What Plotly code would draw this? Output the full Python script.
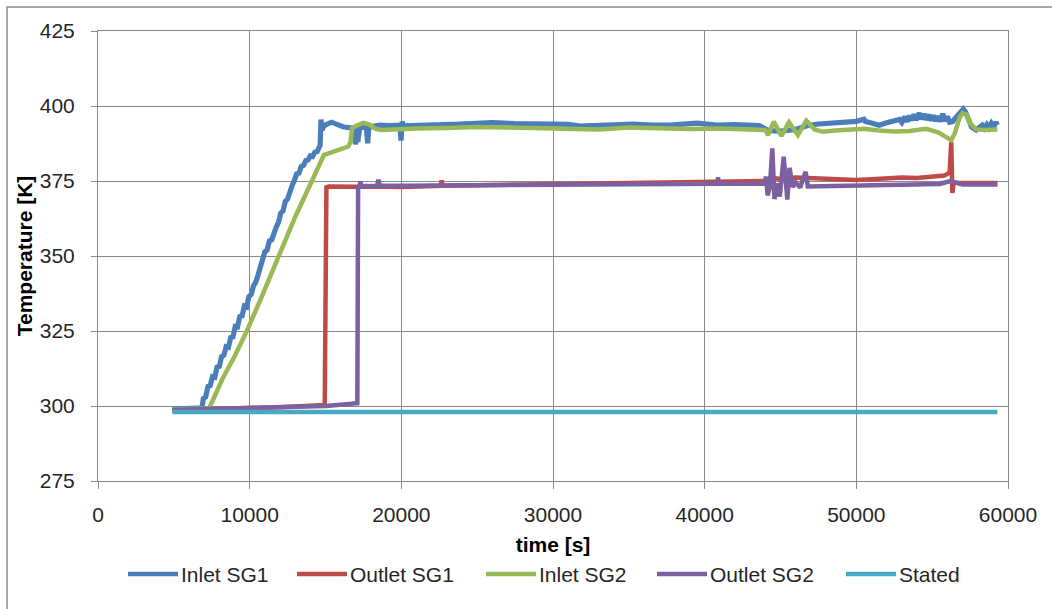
import plotly.graph_objects as go

# ---- measured temperatures: (time [s], temperature [K]) ----
inlet_sg1 = [
    (4900, 299.0), (6000, 299.2), (6850, 299.4), (6950, 302.5), (7100, 303.0),
    (7250, 306.5), (7400, 306.8), (7550, 309.8), (7700, 309.6), (7850, 313.0),
    (8000, 313.2), (8150, 316.5), (8300, 317.0), (8450, 319.8), (8600, 319.6),
    (8750, 322.8), (8900, 323.0), (9050, 326.5), (9200, 326.4), (9350, 329.8),
    (9500, 330.0), (9650, 333.3), (9800, 333.0), (9950, 336.5), (10100, 337.2),
    (10250, 340.0), (10400, 341.3), (10550, 343.6), (10700, 346.5), (10850, 349.0),
    (11000, 351.4), (11150, 352.0), (11300, 355.0), (11450, 355.4), (11600, 358.0),
    (11750, 359.6), (11900, 361.2), (12050, 364.3), (12200, 365.0), (12350, 368.2),
    (12500, 369.0), (12650, 371.6), (12800, 373.5), (12950, 375.2), (13100, 377.4),
    (13250, 377.6), (13400, 379.8), (13550, 380.2), (13700, 381.8), (13850, 382.0),
    (14000, 383.4), (14150, 383.2), (14300, 384.6), (14450, 384.8), (14600, 386.0),
    (14650, 387.0), (14700, 395.5), (14780, 392.0), (14900, 393.5), (15400, 394.6),
    (15800, 393.8), (16200, 393.0), (16600, 392.8), (16900, 392.5), (16980, 387.2),
    (17060, 391.5), (17130, 388.0), (17250, 392.6), (17500, 393.0), (17700, 392.6),
    (17780, 387.6), (17860, 392.8), (18200, 393.3), (18600, 393.6), (19200, 393.5),
    (19900, 393.6), (19980, 388.5), (20050, 394.8), (20150, 393.4), (21000, 393.6),
    (22000, 393.8), (22600, 393.8), (22660, 392.2), (22720, 393.8), (23500, 393.9),
    (25000, 394.2), (26000, 394.5), (27500, 394.1), (29000, 394.0), (30000, 394.3),
    (31000, 393.9), (31800, 393.3), (33000, 393.5), (34500, 393.8), (35300, 394.0),
    (36500, 393.6), (37900, 393.7), (39500, 394.3), (40800, 393.6), (42000, 393.8),
    (43600, 393.5), (44200, 391.8), (45000, 391.6), (46000, 392.2), (46800, 393.5),
    (47500, 394.0), (48500, 394.3), (49500, 394.6), (50000, 394.9), (50500, 395.6),
    (50600, 394.8), (51000, 394.3), (51500, 393.6), (52000, 394.4), (52500, 395.0),
    (52850, 395.5), (53000, 394.5), (53200, 396.4), (53350, 394.8), (53500, 396.8),
    (53650, 395.2), (53800, 397.2), (53950, 395.4), (54150, 397.6), (54300, 395.6),
    (54450, 397.3), (54600, 395.5), (54800, 397.0), (54950, 395.2), (55100, 396.8),
    (55250, 395.0), (55400, 396.6), (55550, 394.8), (55700, 397.4), (55850, 395.0),
    (56000, 396.5), (56150, 394.6), (56350, 394.8), (56500, 395.8), (56700, 397.0),
    (56900, 398.6), (57050, 399.0), (57200, 398.0), (57400, 395.5), (57600, 393.0),
    (57900, 392.0), (58100, 392.8), (58300, 393.6), (58450, 392.6), (58600, 393.8),
    (58750, 392.8), (58900, 394.2), (59050, 393.0), (59200, 394.6), (59300, 393.6),
]

outlet_sg1 = [
    (4900, 298.6), (8000, 299.0), (12000, 299.6), (14950, 300.3), (15060, 372.9),
    (15200, 373.2), (16000, 373.0), (17000, 373.1), (18000, 373.2), (19000, 373.2),
    (20000, 373.0), (22600, 373.4), (22660, 375.2), (22720, 373.4), (25000, 373.6),
    (30000, 373.9), (35000, 374.3), (39000, 374.7), (40500, 374.8), (42000, 374.9),
    (44000, 375.0), (44500, 376.0), (45000, 375.7), (46000, 376.2), (47000, 375.9),
    (48000, 375.6), (49000, 375.4), (50000, 375.3), (51000, 375.6), (52000, 375.9),
    (53000, 376.2), (54000, 376.0), (55000, 376.4), (55800, 376.8), (56150, 377.8),
    (56260, 388.0), (56330, 371.0), (56420, 374.5), (56700, 374.4), (57500, 374.3),
    (59300, 374.3),
]

inlet_sg2 = [
    (4900, 298.8), (6500, 298.9), (7300, 299.2), (7400, 300.0), (8200, 309.0),
    (9000, 316.5), (9815, 325.0), (10800, 336.5), (11900, 350.0), (13000, 363.0),
    (14100, 375.0), (14600, 380.5), (14900, 383.7), (15200, 384.2), (15600, 384.8),
    (16100, 385.8), (16500, 386.5), (16650, 388.0), (16750, 392.6), (17100, 393.6),
    (17500, 394.4), (17900, 393.8), (18300, 392.4), (18700, 392.0), (19500, 392.3),
    (21000, 392.5), (23000, 392.7), (25000, 393.0), (27000, 392.8), (29000, 392.6),
    (30000, 392.7), (31500, 392.3), (33000, 392.2), (35000, 392.8), (37000, 392.4),
    (39000, 392.3), (41000, 392.5), (43000, 392.2), (44000, 392.0), (44180, 390.3),
    (44560, 394.8), (45060, 390.0), (45560, 394.6), (46150, 390.3), (46700, 395.1),
    (47250, 392.2), (47800, 391.4), (48600, 391.8), (49500, 392.0), (50500, 392.4),
    (51500, 391.8), (52500, 391.5), (53500, 391.7), (54600, 392.4), (55400, 391.2),
    (56000, 389.6), (56260, 388.6), (56500, 391.0), (56800, 396.0), (57000, 397.6),
    (57250, 397.2), (57500, 394.2), (57900, 392.2), (58500, 392.0), (59300, 392.2),
]

outlet_sg2 = [
    (4900, 298.7), (9000, 299.2), (13000, 299.8), (15050, 300.0), (17100, 300.9),
    (17150, 373.0), (17250, 373.3), (17300, 374.9), (17360, 373.3), (18400, 373.4),
    (18490, 375.4), (18580, 373.4), (20000, 373.4), (25000, 373.6), (30000, 373.8),
    (35000, 374.0), (40000, 374.2), (40850, 374.1), (40880, 376.3), (40920, 374.1),
    (43900, 374.1), (44050, 376.4), (44150, 370.2), (44300, 373.0), (44460, 385.9),
    (44600, 369.0), (44800, 374.2), (44950, 369.8), (45210, 383.1), (45450, 368.8),
    (45600, 379.4), (45800, 373.0), (46000, 374.5), (46300, 372.8), (46500, 376.0),
    (46660, 378.1), (46800, 373.2), (48000, 373.3), (50000, 373.5), (52000, 373.8),
    (54000, 373.8), (55500, 374.0), (56200, 375.0), (56500, 374.6), (57000, 373.8),
    (59300, 373.8),
]

stated = [(4900, 298.0), (59300, 298.0)]

series_names = ["Inlet SG1", "Outlet SG1", "Inlet SG2", "Outlet SG2", "Stated"]
series_data = [inlet_sg1, outlet_sg1, inlet_sg2, outlet_sg2, stated]
series_colors = ["#4A7EBB", "#BE4B48", "#98B954", "#7D60A0", "#46AAC5"]
series_widths = [5.2, 4.5, 4.5, 4.5, 4.5]

x_ticks = [0, 10000, 20000, 30000, 40000, 50000, 60000]
y_ticks = [275, 300, 325, 350, 375, 400, 425]

# ---- page geometry (pixels) ----
W, H = 1052, 609
M_L, M_R, M_T, M_B = 98, 44, 31, 128
PW, PH = W - M_L - M_R, H - M_T - M_B


def px_x(px):
    return (px - M_L) / PW


def px_y(py):
    return (H - M_B - py) / PH


FONT = "Liberation Sans, Arial, sans-serif"
GRID = "#898989"

fig = go.Figure()
for name, data, color, width in zip(series_names, series_data, series_colors, series_widths):
    fig.add_trace(go.Scatter(
        x=[p[0] for p in data],
        y=[p[1] for p in data],
        mode="lines",
        name=name,
        line=dict(color=color, width=width),
        showlegend=False,
    ))

# legend drawn below the axis title: line sample followed by label
legend_left = [128, 297, 486, 657, 846]
legend_y = 574
shapes = []
annotations = []
for name, color, lx in zip(series_names, series_colors, legend_left):
    shapes.append(dict(type="line", xref="paper", yref="paper",
                       x0=px_x(lx), x1=px_x(lx + 50), y0=px_y(legend_y), y1=px_y(legend_y),
                       line=dict(color=color, width=4.5)))
    annotations.append(dict(xref="paper", yref="paper", x=px_x(lx + 51), y=px_y(legend_y),
                            text=name, showarrow=False, xanchor="left", yanchor="middle",
                            font=dict(family=FONT, size=21, color="#262626")))

# outer chart frame
shapes.append(dict(type="rect", xref="paper", yref="paper",
                   x0=px_x(7), x1=px_x(1070), y0=px_y(630), y1=px_y(7),
                   line=dict(color="#8C8C8C", width=1.5), layer="below"))

fig.update_layout(
    width=W, height=H,
    margin=dict(l=M_L, r=M_R, t=M_T, b=M_B),
    paper_bgcolor="white", plot_bgcolor="white",
    font=dict(family=FONT, size=21, color="#262626"),
    shapes=shapes, annotations=annotations,
    showlegend=False,
)
fig.update_xaxes(
    range=[0, 60000], tickvals=x_ticks, ticktext=[str(v) for v in x_ticks],
    showgrid=True, gridcolor=GRID, gridwidth=1,
    showline=True, linecolor=GRID, linewidth=1, mirror=True, zeroline=False,
    ticks="outside", ticklen=7, tickcolor=GRID, ticklabelstandoff=8,
    tickfont=dict(family=FONT, size=21, color="#262626"),
    title=dict(text="time [s]", standoff=12,
               font=dict(family=FONT, size=21, color="#000000", weight="bold")),
)
fig.update_yaxes(
    range=[275, 425], tickvals=y_ticks, ticktext=[str(v) for v in y_ticks],
    showgrid=True, gridcolor=GRID, gridwidth=1,
    showline=True, linecolor=GRID, linewidth=1, mirror=True, zeroline=False,
    ticks="outside", ticklen=6, tickcolor=GRID, ticklabelstandoff=12,
    tickfont=dict(family=FONT, size=21, color="#262626"),
    title=dict(text="Temperature [K]", standoff=1,
               font=dict(family=FONT, size=21, color="#000000", weight="bold")),
)

fig.write_html("out.html")
